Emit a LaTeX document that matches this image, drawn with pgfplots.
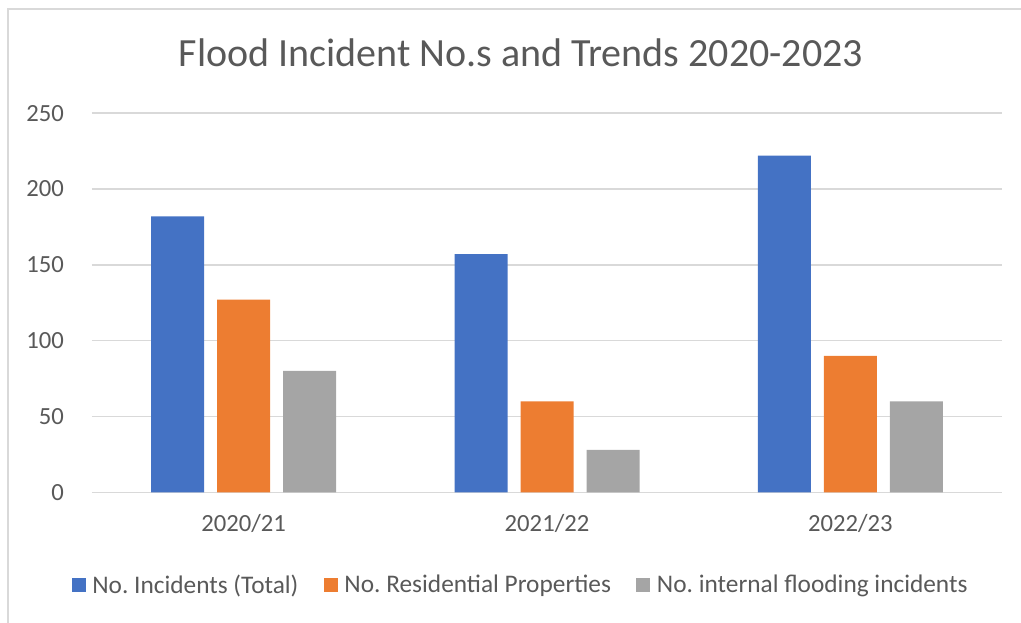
\documentclass[border=0pt]{standalone}
\usepackage{pgfplots}
\pgfplotsset{compat=1.18}
\usepackage{fontspec}
\setmainfont{Carlito}
\definecolor{sblue}{HTML}{4472C4}
\definecolor{sorange}{HTML}{ED7D31}
\definecolor{sgray}{HTML}{A5A5A5}
\definecolor{txt}{HTML}{595959}
\definecolor{gridc}{HTML}{D9D9D9}
\begin{document}
\frenchspacing
\begin{tikzpicture}[x=0.75pt,y=0.75pt]
\path[use as bounding box] (0,0) rectangle (1021,622);
\draw[color=gridc, line width=1.5pt] (8,-5) -- (8,613) -- (1030,613);
\node[text=txt, font=\fontsize{30}{34}\selectfont, anchor=base, inner sep=0pt] at (521,555) {Flood Incident No.s and Trends 2020-2023};
\begin{axis}[
  at={(69pt,97.3pt)}, anchor=south west,
  width=682.5pt, height=284.3pt, scale only axis,
  xmin=-0.5, xmax=2.5, ymin=0, ymax=250,
  ytick={0,50,100,150,200,250},
  xtick={0,1,2}, xticklabels={2020/21,2021/22,2022/23},
  axis line style={draw=none},
  ymajorgrids, grid style={color=gridc, line width=1.1pt},
  major tick length=0pt,
  ybar=9.75pt, bar width=39.75pt,
  tick label style={text=txt, font=\fontsize{18.5}{22}\selectfont},
  /pgf/number format/assume math mode=true,
  yticklabel style={xshift=-17.5pt},
  xticklabel style={yshift=-13pt},
  legend style={at={(rel axis cs:0.4714,-0.2446)}, anchor=center, draw=none, fill=none,
    legend columns=3, font=\fontsize{19}{22}\selectfont, text=txt,
    /tikz/every odd column/.append style={column sep=3pt},
    /tikz/every even column/.append style={column sep=17pt},
    legend cell align=left},
  legend image code/.code={\fill[#1] (0pt,-5pt) rectangle (10.5pt,5.5pt);},
]
\addplot[fill=sblue, draw=none] coordinates {(0,182) (1,157) (2,222)};
\addplot[fill=sorange, draw=none] coordinates {(0,127) (1,60) (2,90)};
\addplot[fill=sgray, draw=none] coordinates {(0,80) (1,28) (2,60)};
\legend{No. Incidents (Total),No. Residential Properties,No. internal flooding incidents}
\end{axis}
\end{tikzpicture}
\end{document}
